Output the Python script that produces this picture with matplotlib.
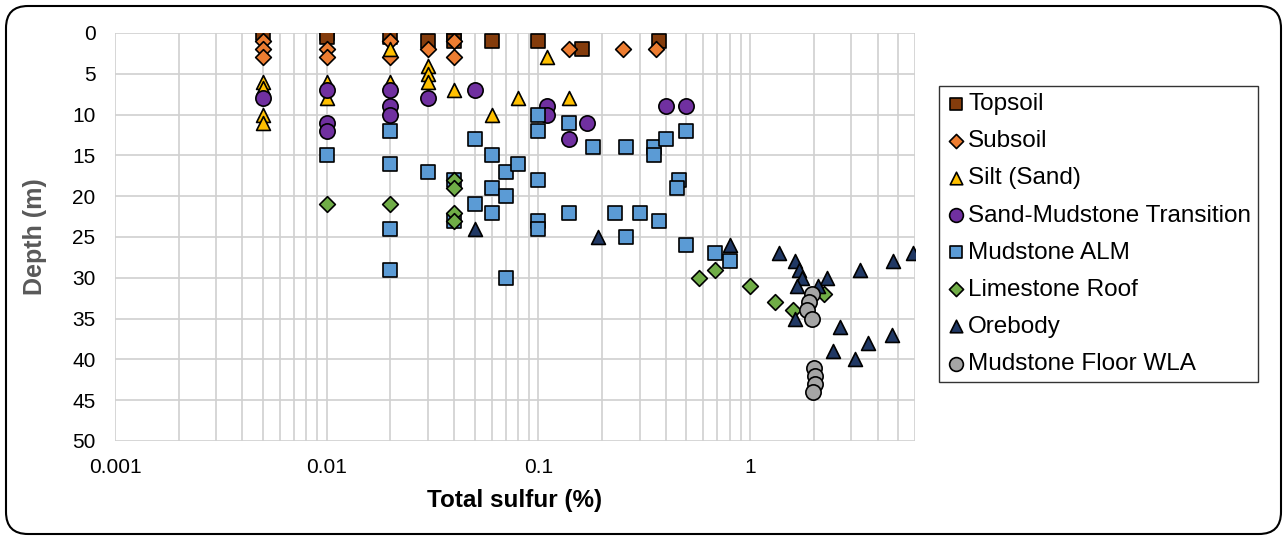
import numpy as np
import matplotlib
matplotlib.use('Agg')
import matplotlib.pyplot as plt
from matplotlib.patches import FancyBboxPatch

plt.rcParams.update({'font.family': ['Liberation Sans', 'DejaVu Sans']})

# total sulfur (%) and depth (m) for each unit
topsoil_s = [0.005, 0.01, 0.01, 0.02, 0.03, 0.04, 0.04, 0.06, 0.1, 0.16, 0.37]
topsoil_d = [0, 0, 0.5, 0.5, 1, 0, 1, 1, 1, 2, 1]

subsoil_s = [0.005, 0.005, 0.005, 0.01, 0.01, 0.02, 0.02, 0.03, 0.04, 0.04, 0.14, 0.25, 0.36]
subsoil_d = [1, 2, 3, 2, 3, 1, 3, 2, 1, 3, 2, 2, 2]

silt_s = [0.005, 0.005, 0.005, 0.005, 0.01, 0.01, 0.02, 0.02, 0.03, 0.03, 0.03,
          0.04, 0.06, 0.08, 0.11, 0.14]
silt_d = [6, 6.7, 10, 11, 6, 8, 2, 6, 4, 5, 6, 7, 10, 8, 3, 8]

transition_s = [0.005, 0.01, 0.01, 0.01, 0.02, 0.02, 0.02, 0.03, 0.05, 0.11, 0.11,
                0.14, 0.17, 0.4, 0.5]
transition_d = [8, 7, 11, 12, 7, 9, 10, 8, 7, 9, 10, 13, 11, 9, 9]

alm_s = [0.01, 0.02, 0.02, 0.02, 0.02, 0.03, 0.04, 0.04, 0.05, 0.05, 0.06, 0.06, 0.06,
         0.07, 0.07, 0.07, 0.08, 0.1, 0.1, 0.1, 0.1, 0.1, 0.14, 0.14, 0.18, 0.23,
         0.26, 0.26, 0.3, 0.35, 0.35, 0.37, 0.4, 0.46, 0.45, 0.5, 0.5, 0.68, 0.8]
alm_d = [15, 12, 16, 24, 29, 17, 18, 23, 13, 21, 15, 19, 22, 17, 20, 30, 16, 10, 12, 18,
         23, 24, 11, 22, 14, 22, 14, 25, 22, 14, 15, 23, 13, 18, 19, 12, 26, 27, 28]

roof_s = [0.01, 0.02, 0.04, 0.04, 0.04, 0.04, 0.57, 0.68, 1.0, 1.31, 1.6, 2.24]
roof_d = [21, 21, 18, 19, 22, 23, 30, 29, 31, 33, 34, 32]

ore_s = [0.05, 0.19, 0.8, 1.36, 1.63, 1.7, 1.76, 1.67, 1.63, 2.3, 2.1, 2.64, 2.47,
         3.14, 3.6, 3.3, 4.66, 4.7, 5.9]
ore_d = [24, 25, 26, 27, 28, 29, 30, 31, 35, 30, 31, 36, 39, 40, 38, 29, 37, 28, 27]

floor_s = [1.95, 1.9, 1.85, 1.95, 2.0, 2.02, 2.02, 1.98]
floor_d = [32, 33, 34, 35, 41, 42, 43, 44]

series = [
    ('Topsoil', topsoil_s, topsoil_d, 's', '#843C0C', 10),
    ('Subsoil', subsoil_s, subsoil_d, 'D', '#ED7D31', 8),
    ('Silt (Sand)', silt_s, silt_d, '^', '#FFC000', 10),
    ('Sand-Mudstone Transition', transition_s, transition_d, 'o', '#7030A0', 11),
    ('Mudstone ALM', alm_s, alm_d, 's', '#5B9BD5', 10),
    ('Limestone Roof', roof_s, roof_d, 'D', '#70AD47', 8),
    ('Orebody', ore_s, ore_d, '^', '#203864', 10),
    ('Mudstone Floor WLA', floor_s, floor_d, 'o', '#A5A5A5', 11),
]

fig = plt.figure(figsize=(12.87, 5.4), dpi=100)
ax = fig.add_axes([115/1287, 1-441/540, 800/1287, 408/540])

for name, xs, ys, mk, col, ms in series:
    ax.scatter(xs, ys, marker=mk, s=ms**2, c=col, edgecolors='black',
               linewidths=1.2, label=name, zorder=3)

ax.set_xscale('log')
ax.set_xlim(0.001, 6)
ax.set_ylim(50, 0)
ax.set_yticks(np.arange(0, 51, 5))
ax.set_xticks([0.001, 0.01, 0.1, 1])
ax.set_xticklabels(['0.001', '0.01', '0.1', '1'])
ax.tick_params(axis='both', which='both', length=0, labelsize=15)
ax.tick_params(axis='y', pad=14)
ax.tick_params(axis='x', pad=12)
ax.grid(True, which='both', color='#D0D0D0', linewidth=1.2)
ax.set_axisbelow(True)
for sp in ax.spines.values():
    sp.set_visible(False)

ax.set_xlabel('Total sulfur (%)', fontsize=17.5, fontweight='bold')
ax.xaxis.set_label_coords(0.5, -0.145)
ax.xaxis.label.set_va('center')
ax.set_ylabel('Depth (m)', fontsize=18, fontweight='bold', color='#595959')
ax.yaxis.set_label_coords(-0.1, 0.5)
ax.yaxis.label.set_va('center')

leg = ax.legend(loc='upper left', bbox_to_anchor=(939/1287, 1-86/540),
                bbox_transform=fig.transFigure, borderaxespad=0, fontsize=17.5,
                frameon=True, fancybox=False, edgecolor='black', markerscale=0.9,
                handletextpad=0.1, handlelength=0.8, labelspacing=0.62,
                borderpad=0.3)
leg.get_frame().set_linewidth(1.0)

border = FancyBboxPatch((6, 6), 1275, 528, boxstyle='round,pad=0,rounding_size=22',
                        transform=None, facecolor='none', edgecolor='black', linewidth=1.5)
fig.add_artist(border)

fig.savefig('out.png', dpi=100)
